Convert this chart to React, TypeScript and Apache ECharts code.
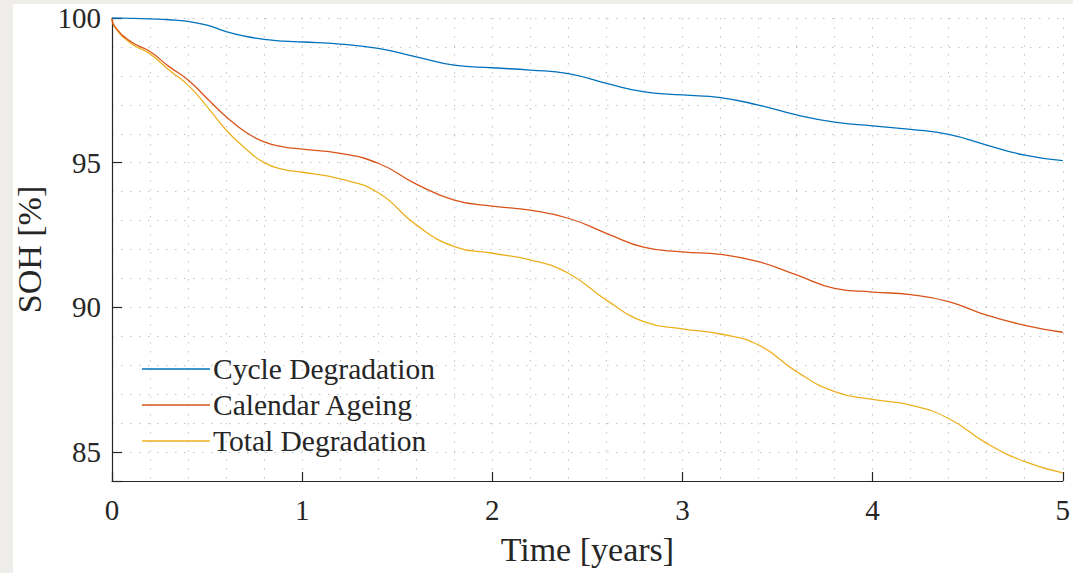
import React, { useEffect, useRef } from "react";
import * as echarts from "echarts";

// Time samples in years (denser at the very start, where the calendar ageing drops fast)
const timeYears = [
  0, 0.015, 0.1, 0.2, 0.3, 0.4, 0.5, 0.6, 0.7, 0.8, 0.9, 1.0, 1.2, 1.4, 1.6, 1.8, 2.0,
  2.2, 2.4, 2.6, 2.8, 3.0, 3.2, 3.4, 3.6, 3.8, 4.0, 4.2, 4.4, 4.6, 4.8, 5.0,
];

// State of health [%]
const cycleDegradation = [
  100, 100, 99.99, 99.97, 99.94, 99.88, 99.75, 99.53, 99.37, 99.26, 99.2, 99.17, 99.1,
  98.95, 98.66, 98.37, 98.28, 98.2, 98.08, 97.74, 97.45, 97.34, 97.25, 96.99, 96.65,
  96.4, 96.27, 96.15, 95.98, 95.61, 95.26, 95.07,
];
const calendarAgeing = [
  100, 99.7, 99.18, 98.84, 98.32, 97.86, 97.22, 96.59, 96.07, 95.72, 95.55, 95.47, 95.32,
  94.98, 94.26, 93.71, 93.5, 93.36, 93.08, 92.56, 92.07, 91.92, 91.83, 91.58, 91.12,
  90.66, 90.53, 90.44, 90.2, 89.73, 89.38, 89.14,
];
const totalDegradation = [
  100, 99.68, 99.12, 98.76, 98.2, 97.68, 96.94, 96.13, 95.5, 95.0, 94.77, 94.67, 94.44,
  93.96, 92.85, 92.1, 91.87, 91.64, 91.18, 90.25, 89.5, 89.26, 89.08, 88.7, 87.78,
  87.09, 86.82, 86.62, 86.16, 85.3, 84.67, 84.28,
];

const seriesNames = ["Cycle Degradation", "Calendar Ageing", "Total Degradation"];
const seriesColors = ["#0072BD", "#D95319", "#EDB120"];

const FONT = "'Liberation Serif', 'Times New Roman', serif";
const INK = "#262626";
const GRID_DOT = { color: "#c4c4c4", width: 1, type: [1.5, 7.5] as number[] };

export default function App() {
  const ref = useRef<HTMLDivElement>(null);

  useEffect(() => {
    if (!ref.current) return;
    const chart = echarts.init(ref.current, undefined, { renderer: "svg" });
    const values = [cycleDegradation, calendarAgeing, totalDegradation];

    chart.setOption({
      animation: false,
      backgroundColor: "transparent",
      grid: { left: 112, top: 18, right: 6, bottom: 92, containLabel: false },
      legend: {
        orient: "vertical",
        left: 137,
        top: 346,
        icon: "rect",
        itemWidth: 68,
        itemHeight: 1.4,
        itemGap: 0,
        data: seriesNames,
        textStyle: { fontFamily: FONT, fontSize: 29.5, color: INK, lineHeight: 36, padding: [0, 0, 0, -2] },
      },
      xAxis: {
        type: "value",
        min: 0,
        max: 5,
        interval: 1,
        name: "Time [years]",
        nameLocation: "middle",
        nameGap: 51,
        nameTextStyle: { fontFamily: FONT, fontSize: 34, color: INK },
        axisLine: { lineStyle: { color: INK, width: 1.2 } },
        axisTick: { inside: true, length: 9, lineStyle: { color: INK, width: 1.2 } },
        axisLabel: { margin: 14, fontFamily: FONT, fontSize: 29, color: INK },
        splitLine: { show: true, lineStyle: GRID_DOT },
        minorTick: { show: false, splitNumber: 5 },
        minorSplitLine: { show: true, lineStyle: GRID_DOT },
      },
      yAxis: [
        {
          type: "value",
          min: 84,
          max: 100,
          minInterval: 5,
          maxInterval: 5,
          name: "SOH [%]",
          nameLocation: "middle",
          nameGap: 66,
          nameRotate: 90,
          nameTextStyle: { fontFamily: FONT, fontSize: 34, color: INK },
          axisLine: { show: true, lineStyle: { color: INK, width: 1.2 } },
          axisTick: { show: true, inside: true, length: 10, lineStyle: { color: INK, width: 1.2 } },
          axisLabel: {
            margin: 11,
            fontFamily: FONT,
            fontSize: 29,
            color: INK,
            formatter: (v: number) => (v % 5 === 0 ? String(v) : ""),
          },
          splitLine: { show: false },
        },
        {
          // grid rows every 1 %
          type: "value",
          min: 84,
          max: 100,
          interval: 1,
          position: "left",
          axisLine: { show: false },
          axisTick: { show: false },
          axisLabel: { show: false },
          splitLine: { show: true, lineStyle: GRID_DOT },
        },
      ],
      series: seriesNames.map((name, i) => ({
        name,
        type: "line",
        yAxisIndex: 0,
        data: timeYears.map((t, k) => [t, values[i][k]]),
        symbol: "none",
        smooth: 0.5,
        lineStyle: { color: seriesColors[i], width: 1.3 },
        itemStyle: { color: seriesColors[i] },
        z: 5 - i,
      })),
    });

    return () => chart.dispose();
  }, []);

  return (
    <div
      style={{
        position: "fixed",
        left: 0,
        top: 0,
        width: 1073,
        height: 573,
        background: "#eeede9",
        overflow: "hidden",
      }}
    >
      <div style={{ position: "absolute", left: 13, top: 4, width: 1060, height: 569, background: "#ffffff" }} />
      <div ref={ref} style={{ position: "absolute", left: 0, top: 0, width: 1073, height: 573 }} />
    </div>
  );
}
